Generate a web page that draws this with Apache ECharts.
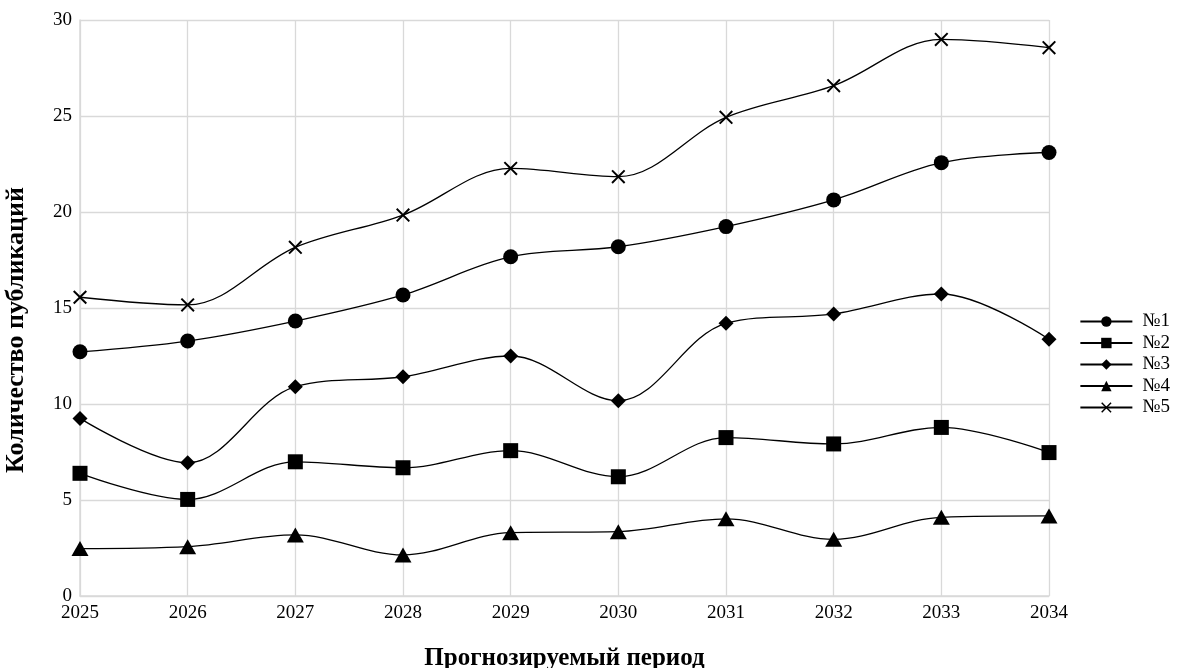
<!DOCTYPE html>
<html>
<head>
<meta charset="utf-8">
<script src="https://cdn.jsdelivr.net/npm/echarts@6/dist/echarts.min.js"></script>
<style>html,body{margin:0;padding:0;background:#fff}#c{width:1179px;height:668px}</style>
</head>
<body>
<div id="c"></div>
<script>
const years = ['2025','2026','2027','2028','2029','2030','2031','2032','2033','2034'];
const s1 = [12.72, 13.28, 14.32, 15.68, 17.67, 18.19, 19.24, 20.63, 22.57, 23.10];
const s2 = [6.39, 5.03, 6.99, 6.68, 7.57, 6.21, 8.25, 7.92, 8.78, 7.47];
const s3 = [9.25, 6.94, 10.90, 11.42, 12.50, 10.17, 14.20, 14.69, 15.73, 13.37];
const s4 = [2.47, 2.57, 3.18, 2.14, 3.30, 3.35, 4.02, 2.95, 4.10, 4.17];
const s5 = [15.56, 15.16, 18.16, 19.84, 22.27, 21.84, 24.93, 26.58, 28.99, 28.56];
const names = ['№1','№2','№3','№4','№5'];
const yTicks = [0, 5, 10, 15, 20, 25, 30];

const FONT = '"Liberation Serif", "Times New Roman", serif';
const crossPath = 'path://M0,1.4L1.4,0L7,5.6L12.6,0L14,1.4L8.4,7L14,12.6L12.6,14L7,8.4L1.4,14L0,12.6L5.6,7Z';
const symbols = [
  {symbol: 'circle', size: 15},
  {symbol: 'rect', size: 15},
  {symbol: 'diamond', size: [15, 15]},
  {symbol: 'triangle', size: [17, 15]},
  {symbol: crossPath, size: 14}
];
const data = [s1, s2, s3, s4, s5];

const chart = echarts.init(document.getElementById('c'), null, {renderer: 'canvas'});
chart.setOption({
  animation: false,
  backgroundColor: '#fff',
  textStyle: {fontFamily: FONT, color: '#000'},
  grid: {left: 80, right: 130, top: 20, bottom: 72, containLabel: false, outerBoundsMode: 'none'},
  legend: {
    orient: 'vertical',
    right: 4,
    top: 307,
    itemWidth: 52,
    itemHeight: 13,
    itemGap: 2.5,
    data: names,
    textStyle: {fontFamily: FONT, fontSize: 19, color: '#000', padding: [0, 0, 0, 5]}
  },
  xAxis: {
    type: 'category',
    data: years,
    boundaryGap: false,
    name: 'Прогнозируемый период',
    nameLocation: 'middle',
    nameGap: 50,
    nameTextStyle: {fontFamily: FONT, fontSize: 25, fontWeight: 'bold', color: '#000'},
    axisLine: {show: true, lineStyle: {color: '#d9d9d9', width: 1.5}},
    axisTick: {show: false},
    axisLabel: {fontFamily: FONT, fontSize: 19, color: '#000', margin: 8},
    splitLine: {show: true, lineStyle: {color: '#d9d9d9', width: 1.3}}
  },
  yAxis: {
    type: 'value',
    min: yTicks[0],
    max: yTicks[yTicks.length - 1],
    interval: 5,
    name: 'Количество публикаций',
    nameLocation: 'middle',
    nameGap: 51,
    nameTextStyle: {fontFamily: FONT, fontSize: 26, fontWeight: 'bold', color: '#000', padding: [0, 44, 0, 0]},
    axisLine: {show: true, lineStyle: {color: '#d9d9d9', width: 1.5}},
    axisTick: {show: false},
    axisLabel: {fontFamily: FONT, fontSize: 19, color: '#000', margin: 8},
    splitLine: {show: true, lineStyle: {color: '#d9d9d9', width: 1.3}}
  },
  series: names.map((n, i) => ({
    name: n,
    type: 'line',
    data: data[i],
    smooth: 0.35,
    symbol: symbols[i].symbol,
    symbolSize: symbols[i].size,
    showAllSymbol: true,
    lineStyle: {color: '#000', width: 1.3},
    itemStyle: {color: '#000', borderWidth: 0},
    z: 5 - i
  }))
});
</script>
</body>
</html>
